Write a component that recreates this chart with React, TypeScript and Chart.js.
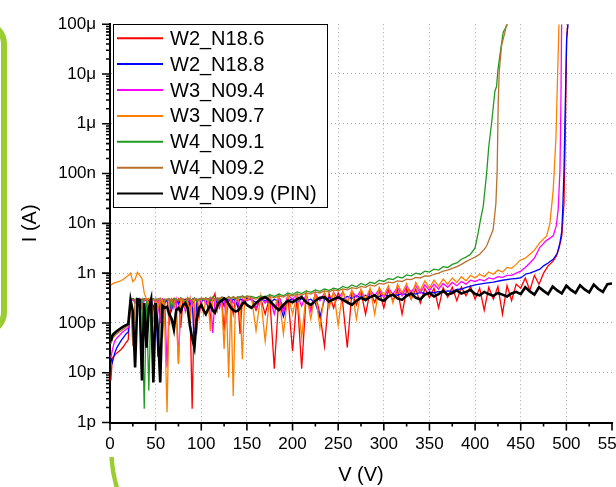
import React, { useEffect, useRef } from 'react';
import { Chart, registerables } from 'chart.js';

Chart.register(...registerables);

const FONT = '"Liberation Sans", Arial, Helvetica, sans-serif';

const seriesLabels = ['W2_N18.6', 'W2_N18.8', 'W3_N09.4', 'W3_N09.7', 'W4_N09.1', 'W4_N09.2', 'W4_N09.9 (PIN)'];
const seriesColors = ['#ff0000', '#0000ff', '#ff00ff', '#ff8000', '#229a22', '#b8702c', '#000000'];
const seriesWidths = [1.3, 1.3, 1.3, 1.3, 1.3, 1.3, 2.6];

const yTickValues = [1e-12, 1e-11, 1e-10, 1e-9, 1e-8, 1e-7, 1e-6, 1e-5, 1e-4];
const yTickLabels = ['1p', '10p', '100p', '1n', '10n', '100n', '1\u03bc', '10\u03bc', '100\u03bc'];

// voltage grids (V)
const vLow = [1, 2.5, 5, 7.5, 10, 12.5, 15, 17.5, 20, 22.5,
  25, 27.5, 30, 32.5, 35, 37.5, 40, 42.5, 45, 47.5,
  50, 52.5, 55, 57.5, 60, 62.5, 65, 67.5, 70, 72.5,
  75, 77.5, 80, 82.5, 85, 87.5, 90, 92.5, 95, 97.5,
  100, 102.5, 105, 107.5, 110, 112.5, 115, 117.5, 120, 122.5,
  125, 127.5, 130, 132.5, 135, 137.5, 140, 142.5, 145, 147.5,
  150];
const vMid = [155, 160, 165, 170, 175, 180, 185, 190, 195, 200,
  205, 210, 215, 220, 225, 230, 235, 240, 245, 250,
  255, 260, 265, 270, 275, 280, 285, 290, 295, 300,
  305, 310, 315, 320, 325, 330, 335, 340, 345, 350,
  355, 360, 365, 370, 375, 380, 385, 390, 395, 400];

// currents in pA
const redLow = [7, 20, 22, 25, 27, 30, 34, 40, 46, 290,
  300, 290, 310, 300, 290, 305, 300, 280, 310, 160,
  300, 290, 120, 300, 280, 300, 90, 290, 300, 250,
  300, 80, 290, 300, 200, 300, 1.9, 290, 300, 130,
  290, 310, 260, 300, 110, 300, 390, 180, 300, 290,
  70, 300, 280, 310, 150, 300, 290, 60, 300, 280,
  320];
const redMid = [300, 180, 320, 150, 330, 12, 340, 200, 350, 27,
  360, 12, 370, 180, 380, 150, 34, 390, 200, 400,
  250, 32, 410, 230, 420, 150, 430, 260, 440, 200,
  450, 280, 460, 150, 470, 300, 480, 250, 490, 320,
  500, 200, 510, 330, 520, 280, 530, 350, 540, 300];
const redHighV = [405, 410, 415, 420, 425, 430, 435, 440, 445, 450, 455, 460, 465, 470, 475, 480, 485, 489, 492, 495, 497.4, 498.8, 500.3, 501.5];
const redHigh = [500, 180, 520, 300, 540, 150, 560, 280, 600, 500, 800, 450, 900, 600, 1000, 1400, 1700, 2200, 3200, 5600, 25000, 530000, 5.1e7, 1e8];

const blueLow = [20, 16, 24, 32, 38, 45, 52, 60, 66, 280,
  300, 270, 300, 290, 230, 300, 280, 260, 300, 200,
  280, 21, 290, 300, 250, 290, 300, 180, 290, 300,
  240, 300, 280, 290, 300, 230, 290, 31, 280, 300,
  260, 300, 290, 200, 300, 280, 300, 250, 290, 300,
  220, 290, 300, 260, 300, 280, 210, 300, 290, 250,
  310];
const blueMid = [290, 260, 300, 280, 250, 300, 270, 134, 290, 300,
  260, 310, 280, 300, 250, 130, 300, 320, 290, 330,
  300, 340, 310, 350, 320, 360, 330, 350, 340, 370,
  350, 380, 360, 390, 370, 400, 380, 410, 390, 420,
  400, 430, 420, 440, 430, 470, 480, 520, 550, 580];
const blueHighV = [410, 420, 430, 440, 445, 450, 456, 460, 465, 471, 475, 480, 485.6, 490, 493, 495, 496, 497.4, 498.8, 500.3, 501.8];
const blueHigh = [620, 660, 720, 770, 780, 800, 970, 1000, 1080, 1200, 1400, 1600, 1900, 2500, 4100, 7000, 19000, 117000, 2.4e6, 5.1e7, 1e8];

const magentaLow = [20, 28, 43, 50, 55, 62, 68, 74, 80, 270,
  300, 250, 290, 300, 200, 280, 300, 150, 290, 300,
  260, 290, 100, 300, 280, 12.7, 290, 300, 200, 290,
  16, 290, 300, 170, 280, 300, 220, 290, 300, 150,
  290, 300, 240, 280, 300, 63, 290, 300, 200, 280,
  300, 120, 290, 300, 250, 280, 300, 180, 290, 300,
  280];
const magentaMid = [310, 200, 330, 250, 340, 150, 350, 160, 360, 300,
  370, 220, 380, 170, 390, 280, 400, 230, 410, 300,
  420, 260, 430, 330, 450, 280, 460, 350, 480, 320,
  500, 380, 520, 350, 540, 420, 560, 400, 580, 450,
  600, 480, 620, 520, 650, 560, 680, 600, 720, 680];
const magentaHighV = [405, 410, 415, 420, 425, 430, 435, 440, 445, 450, 455, 460, 465, 471, 478, 485.6, 489, 491, 493, 494, 494.8];
const magentaHigh = [750, 700, 800, 760, 850, 820, 900, 900, 1000, 1100, 1300, 1600, 2000, 3300, 4500, 5600, 9000, 19000, 117000, 2.4e6, 1e8];

const orangeLow = [570, 610, 640, 660, 680, 710, 760, 830, 900, 1000,
  680, 750, 1040, 900, 780, 400, 300, 250, 310, 120,
  300, 200, 310, 280, 90, 1.6, 300, 250, 310, 150,
  15, 300, 280, 200, 310, 90, 290, 300, 60, 280,
  300, 150, 310, 280, 68, 300, 290, 180, 310, 250,
  30, 300, 8, 310, 3.4, 290, 300, 250, 18.7, 300,
  290];
const orangeMid = [330, 70, 340, 43, 350, 200, 360, 60, 370, 150,
  380, 50, 400, 120, 410, 80, 420, 200, 430, 90,
  450, 250, 460, 120, 480, 300, 500, 150, 520, 350,
  560, 250, 600, 400, 620, 300, 650, 450, 700, 500,
  720, 550, 760, 600, 800, 650, 850, 700, 900, 800];
const orangeHighV = [405, 410, 415, 420, 425, 430, 435, 440, 445, 449, 455, 460, 465, 471, 478.4, 482, 485.6, 488.6, 490, 491.9];
const orangeHigh = [950, 850, 1050, 950, 1150, 1050, 1300, 1250, 1500, 1800, 2000, 2400, 2900, 4100, 5600, 10000, 47000, 530000, 5e6, 1e8];

const greenLow = [50, 60, 65, 70, 75, 80, 85, 90, 95, 300,
  310, 280, 300, 250, 300, 1.9, 300, 4.4, 300, 310,
  280, 300, 310, 150, 300, 290, 300, 200, 310, 300,
  280, 320, 300, 250, 310, 300, 290, 320, 270, 300,
  310, 290, 320, 300, 280, 330, 300, 310, 290, 330,
  320, 300, 340, 310, 330, 300, 340, 320, 350, 330,
  340];
const greenMid = [340, 320, 350, 330, 370, 340, 380, 350, 400, 370,
  420, 390, 440, 410, 460, 430, 480, 450, 500, 470,
  540, 500, 580, 530, 620, 570, 660, 620, 720, 680,
  780, 740, 850, 800, 920, 880, 1000, 950, 1100, 1050,
  1200, 1150, 1350, 1300, 1500, 1600, 1900, 2100, 2400, 3200];
const greenHighV = [403.4, 406, 408.9, 412.6, 415, 418, 421.7, 423.5, 425, 427.2, 430.8, 435.6];
const greenHigh = [6500, 12000, 22000, 100000, 350000, 1e6, 4.5e6, 5.6e6, 1.2e7, 2.4e7, 6.9e7, 1e8];

const brownLow = [38, 48, 55, 60, 66, 70, 76, 82, 90, 280,
  34, 300, 280, 310, 200, 300, 290, 310, 250, 300,
  280, 300, 310, 50, 290, 300, 280, 310, 230, 300,
  290, 310, 300, 270, 320, 300, 290, 310, 300, 280,
  320, 300, 310, 290, 330, 310, 300, 320, 310, 330,
  320, 310, 330, 300, 340, 320, 310, 340, 330, 320,
  350];
const brownMid = [320, 300, 330, 310, 340, 320, 350, 330, 370, 350,
  380, 360, 400, 380, 420, 400, 440, 420, 460, 440,
  480, 460, 510, 490, 540, 520, 580, 550, 620, 600,
  660, 640, 700, 680, 760, 740, 820, 800, 880, 870,
  950, 1000, 1100, 1150, 1250, 1350, 1500, 1700, 1900, 2100];
const brownHighV = [405, 410, 412.6, 416, 419.8, 422.8, 424.2, 425.3, 426.4, 429, 432.7, 434.5];
const brownHigh = [2400, 3000, 3500, 5000, 7500, 25000, 117000, 2.4e6, 1.1e7, 3.7e7, 6.9e7, 1e8];

const blackLow = [43, 55, 62, 68, 74, 80, 85, 90, 95, 290,
  170, 12.7, 300, 290, 7, 250, 32, 200, 300, 6.4,
  250, 68, 6.4, 220, 200, 210, 150, 120, 74, 180,
  200, 170, 230, 250, 200, 90, 50, 32, 120, 200,
  230, 180, 150, 190, 230, 180, 160, 220, 260, 280,
  310, 290, 240, 200, 180, 170, 175, 200, 240, 260,
  230];
const blackMid = [200, 250, 300, 330, 280, 220, 180, 230, 280, 260,
  300, 330, 260, 230, 280, 320, 330, 270, 300, 330,
  290, 260, 230, 280, 320, 290, 330, 360, 300, 280,
  340, 370, 310, 290, 350, 390, 320, 300, 370, 400,
  340, 380, 440, 370, 400, 450, 390, 420, 460, 380];
const blackHighV = [405, 410, 415, 420, 425, 430, 435, 440, 445, 450, 455, 460, 465, 470, 475, 480, 485, 490, 495, 500, 505, 510, 515, 520, 525, 530, 535, 540, 545, 550];
const blackHigh = [360, 420, 380, 350, 400, 370, 340, 390, 420, 380, 520, 430, 370, 520, 440, 380, 540, 450, 390, 560, 460, 400, 570, 470, 410, 590, 480, 420, 600, 620];

const seriesParts: [number[], number[], number[], number[]][] = [
  [redLow, redMid, redHighV, redHigh],
  [blueLow, blueMid, blueHighV, blueHigh],
  [magentaLow, magentaMid, magentaHighV, magentaHigh],
  [orangeLow, orangeMid, orangeHighV, orangeHigh],
  [greenLow, greenMid, greenHighV, greenHigh],
  [brownLow, brownMid, brownHighV, brownHigh],
  [blackLow, blackMid, blackHighV, blackHigh],
];

function buildPoints(low: number[], mid: number[], hv: number[], hi: number[]) {
  const vs = vLow.concat(vMid, hv);
  const pa = low.concat(mid, hi);
  return vs.map((v, i) => ({ x: v, y: pa[i] * 1e-12 }));
}

const axisTicksPlugin = {
  id: 'axisTicks',
  afterDraw(chart: any) {
    const { ctx, chartArea, scales } = chart;
    const xs = scales.x;
    const ys = scales.y;
    ctx.save();
    ctx.strokeStyle = '#000';
    ctx.lineWidth = 1.6;
    ctx.beginPath();
    for (let v = 0; v <= 550; v += 25) {
      const px = xs.getPixelForValue(v);
      const len = v % 50 === 0 ? 8 : 4;
      ctx.moveTo(px, chartArea.bottom);
      ctx.lineTo(px, chartArea.bottom + len);
    }
    for (let e = -12; e <= -4; e++) {
      for (let m = 1; m <= 9; m++) {
        if (e === -4 && m > 1) break;
        const py = ys.getPixelForValue(m * Math.pow(10, e));
        const len = m === 1 ? 8 : 4;
        ctx.moveTo(chartArea.left, py);
        ctx.lineTo(chartArea.left - len, py);
      }
    }
    ctx.stroke();
    ctx.restore();
  },
};

const legendBoxPlugin = {
  id: 'legendBox',
  afterDraw(chart: any) {
    const { ctx, chartArea } = chart;
    const x0 = chartArea.left + 3;
    const y0 = chartArea.top;
    const w = 214;
    const h = 183;
    ctx.save();
    ctx.fillStyle = '#fff';
    ctx.fillRect(x0, y0, w, h);
    ctx.strokeStyle = '#000';
    ctx.lineWidth = 1;
    ctx.strokeRect(Math.round(x0) + 0.5, Math.round(y0) + 0.5, w, h);
    ctx.font = '20px ' + FONT;
    ctx.textBaseline = 'middle';
    ctx.textAlign = 'left';
    chart.data.datasets.forEach((ds: any, i: number) => {
      const y = y0 + 14 + i * 25.9;
      ctx.strokeStyle = ds.borderColor;
      ctx.lineWidth = 2;
      ctx.beginPath();
      ctx.moveTo(x0 + 4, y);
      ctx.lineTo(x0 + 50, y);
      ctx.stroke();
      ctx.fillStyle = '#000';
      ctx.fillText(ds.label, x0 + 57, y + 1);
    });
    ctx.restore();
  },
};

export default function App() {
  const ref = useRef<HTMLCanvasElement>(null);

  useEffect(() => {
    if (!ref.current) return;
    const datasets = seriesParts.map((p, i) => ({
      label: seriesLabels[i],
      data: buildPoints(p[0], p[1], p[2], p[3]),
      borderColor: seriesColors[i],
      backgroundColor: seriesColors[i],
      borderWidth: seriesWidths[i],
      pointRadius: 0,
      tension: 0,
      fill: false,
      order: seriesLabels.length - 1 - i,
    }));
    const gridColor = '#a8a8a8';
    const chart = new Chart(ref.current, {
      type: 'line',
      data: { datasets },
      options: {
        animation: false,
        responsive: false,
        maintainAspectRatio: false,
        events: [],
        layout: { padding: { left: 0, right: 28, top: 18, bottom: 0 } },
        plugins: { legend: { display: false }, tooltip: { enabled: false } },
        scales: {
          x: {
            type: 'linear',
            min: 0,
            max: 550,
            afterFit: (s: any) => { s.height = 64.5; },
            ticks: {
              stepSize: 50,
              autoSkip: false,
              maxRotation: 0,
              padding: 12,
              color: '#000',
              font: { family: FONT, size: 17 },
            },
            grid: {
              drawTicks: false,
              lineWidth: 1,
              color: (c: any) => (c.tick && c.tick.value >= 550 ? 'rgba(0,0,0,0)' : gridColor),
            },
            border: { display: true, color: '#000', width: 2, dash: [1, 3] },
            title: {
              display: true,
              text: 'V (V)',
              color: '#000',
              font: { family: FONT, size: 20, lineHeight: 1.2 },
              padding: { top: 0, bottom: 0 },
            },
          },
          y: {
            type: 'logarithmic',
            min: 1e-12,
            max: 1e-4,
            afterFit: (s: any) => { s.width = 110; },
            afterBuildTicks: (s: any) => { s.ticks = yTickValues.map((v) => ({ value: v })); },
            ticks: {
              autoSkip: false,
              padding: 14,
              color: '#000',
              font: { family: FONT, size: 17 },
              callback: (_v: any, i: number) => yTickLabels[i],
            },
            grid: {
              drawTicks: false,
              lineWidth: 1,
              color: (c: any) => (c.tick && c.tick.value >= 1e-4 ? 'rgba(0,0,0,0)' : gridColor),
            },
            border: { display: true, color: '#000', width: 2, dash: [1, 3] },
            title: {
              display: true,
              text: 'I (A)',
              color: '#000',
              font: { family: FONT, size: 20, lineHeight: 1.2 },
              padding: { top: 18, bottom: 0 },
            },
          },
        },
      } as any,
      plugins: [axisTicksPlugin, legendBoxPlugin],
    });
    return () => chart.destroy();
  }, []);

  return (
    <div style={{ position: 'fixed', left: 0, top: 0, width: 616, height: 487, overflow: 'hidden', background: '#fff' }}>
      <canvas ref={ref} width={640} height={487} style={{ position: 'absolute', left: 0, top: 0, width: 640, height: 487 }} />
      <div style={{ position: 'absolute', left: -214, top: 20, width: 209, height: 304, border: '6px solid #9acd32', borderRadius: 24 }} />
      <svg style={{ position: 'absolute', left: 0, top: 0 }} width={616} height={487}>
        <path d="M111.5 457 Q112.5 474 117.5 490" stroke="#9acd32" strokeWidth={4.5} fill="none" />
      </svg>
    </div>
  );
}
